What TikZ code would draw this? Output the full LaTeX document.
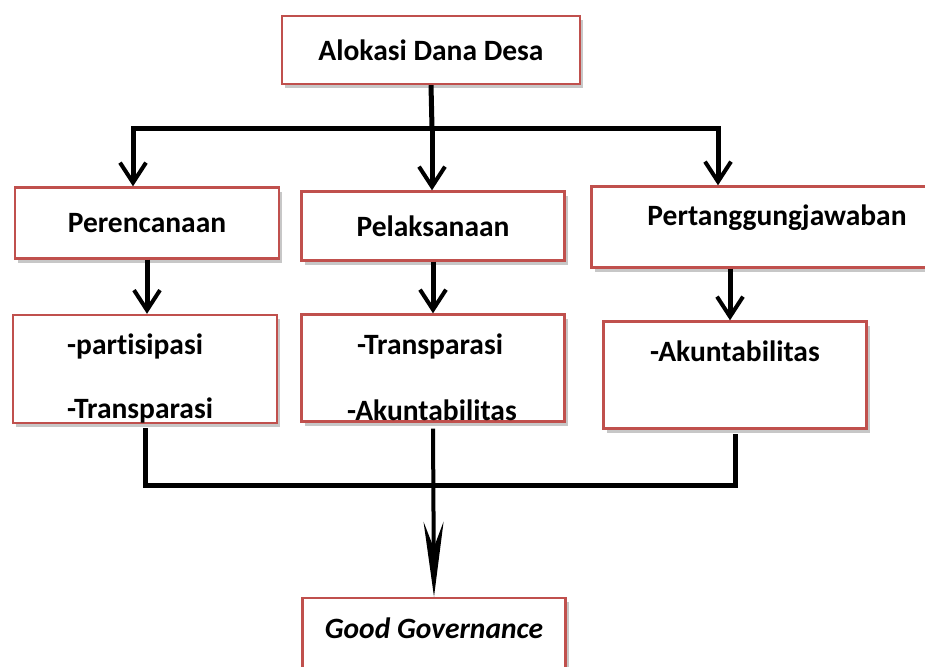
\documentclass[tikz,border=0pt]{standalone}
\usepackage{fontspec}
\setmainfont[Ligatures=NoCommon]{Carlito}
\usetikzlibrary{arrows.meta,shadows}
\definecolor{boxred}{RGB}{192,80,77}
\tikzset{
  box/.style={draw=boxred, line width=2.4pt, fill=white, inner sep=0pt,
    drop shadow={shadow xshift=3pt, shadow yshift=-4pt, fill=black, opacity=.22}},
  lbl/.style={font=\fontsize{29.5}{32}\selectfont\bfseries, inner sep=0pt},
  link/.style={line width=5pt, black},
  arr/.style={link, -{Straight Barb[length=20pt,width=26pt,line width=4pt]}},
  bigarr/.style={line width=4pt, black, -{Stealth[length=75pt,width=20pt,inset=26pt]}}
}
\begin{document}
\begin{tikzpicture}[x=1pt,y=-1pt]
\useasboundingbox (0,0) rectangle (925,666);

% boxes
\node[box, lbl, minimum width=298, minimum height=68] (dana) at (431,50) {Alokasi Dana Desa};
\node[box, lbl, minimum width=264, minimum height=71] (plan) at (147,223) {Perencanaan};
\node[box, lbl, minimum width=263, minimum height=69] (exec) at (433,226) {Pelaksanaan};
\node[box, minimum width=343, minimum height=81] (resp) at (763,227) {};
\node[lbl] (resptxt) at (777,218) {Pertanggungjawaban};

\node[box, minimum width=264, minimum height=108] (plan2) at (145,369) {};
\node[lbl, anchor=west] (part) at (67,346) {-partisipasi};
\node[lbl, anchor=west] (trans) at (67,410) {-Transparasi};

\node[box, minimum width=263, minimum height=107] (exec2) at (433,368) {};
\node[lbl, anchor=west] (trans2) at (357,346) {-Transparasi};
\node[lbl, anchor=west] (akun) at (347,410) {-Akuntabilitas};

\node[box, minimum width=263, minimum height=107] (resp2) at (735,375) {};
\node[lbl, anchor=west] (akun2) at (650,351) {-Akuntabilitas};

\node[box, minimum width=263, minimum height=82] (gg) at (434,639) {};
\node[lbl, font=\fontsize{29.5}{32}\selectfont\bfseries\itshape] (ggtxt) at (434,628) {Good Governance};

% connectors
\coordinate (split) at (432,128);
\coordinate (join) at (432,485);
\draw[link] (dana.south) -- (split);
\draw[arr] (split) -| ([xshift=-14]plan.north);
\draw[arr] (split) -- (split |- exec.north);
\draw[arr] (split) -| ([xshift=-45]resp.north);

\draw[arr] (plan.south) -- (plan.south |- plan2.north);
\draw[arr] (exec.south) -- (exec.south |- exec2.north);
\draw[arr] ([xshift=-33]resp.south) -- ([xshift=-33]resp.south |- resp2.north);

\draw[link] ([yshift=-4]plan2.south) |- (join) -| ([yshift=-4]resp2.south);
\draw[bigarr] ([yshift=-6]exec2.south) -- (gg.north);
\end{tikzpicture}
\end{document}
